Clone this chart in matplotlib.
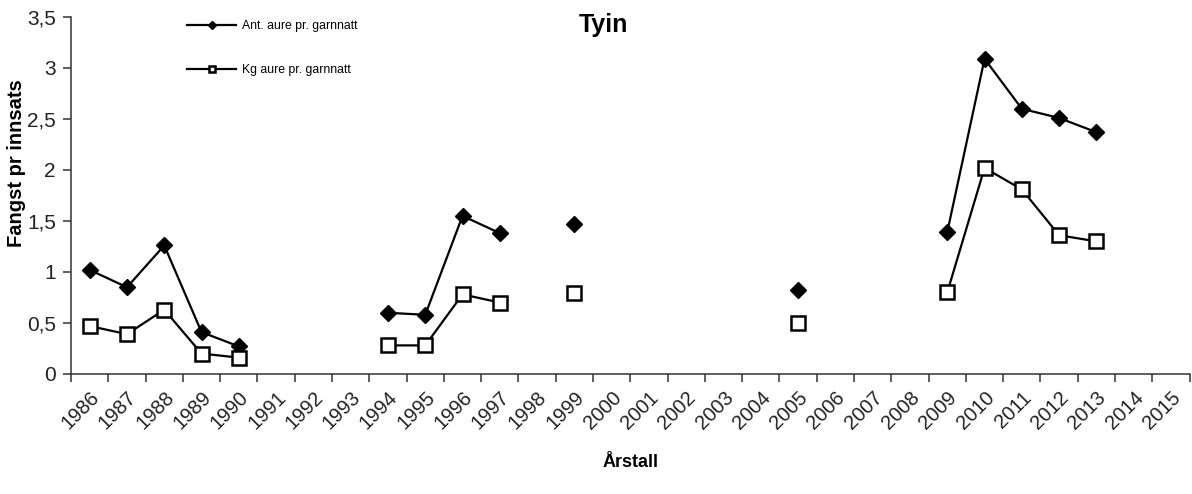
import numpy as np
import matplotlib.pyplot as plt

plt.rcParams['font.family'] = ['Liberation Sans', 'DejaVu Sans']

# Årstall 1986-2015
years = [str(y) for y in range(1986, 2016)]

# Ant. aure pr. garnnatt (None = ikke fisket)
ant = [1.02, 0.85, 1.26, 0.41, 0.27, None, None, None, 0.60, 0.58,
       1.55, 1.38, None, 1.47, None, None, None, None, None, 0.82,
       None, None, None, 1.39, 3.09, 2.60, 2.51, 2.37, None, None]

# Kg aure pr. garnnatt
kg = [0.47, 0.39, 0.63, 0.20, 0.16, None, None, None, 0.28, 0.28,
      0.78, 0.70, None, 0.79, None, None, None, None, None, 0.50,
      None, None, None, 0.80, 2.02, 1.81, 1.36, 1.30, None, None]

yticks = [0, 0.5, 1, 1.5, 2, 2.5, 3, 3.5]

x = np.arange(len(years))
ant_arr = np.array([np.nan if v is None else v for v in ant])
kg_arr = np.array([np.nan if v is None else v for v in kg])

fig = plt.figure(figsize=(11.92, 4.94), dpi=100)
ax = fig.add_axes([0.0596, 0.243, 0.9384, 0.7226])

ax.plot(x, ant_arr, color='black', lw=1.6, marker='D', markersize=8,
        markerfacecolor='black', markeredgecolor='black', label='Ant. aure pr. garnnatt')
ax.plot(x, kg_arr, color='black', lw=1.6, marker='s', markersize=9.5,
        markerfacecolor='white', markeredgecolor='black', markeredgewidth=1.8,
        label='Kg aure pr. garnnatt')

ax.set_xlim(-0.5, len(years) - 0.5)
ax.set_ylim(0, 3.5)
ax.set_yticks(yticks)
ax.set_yticklabels([f'{v:g}'.replace('.', ',') for v in yticks], fontsize=15, color='#222222')

ax.set_xticks(x)
ax.set_xticklabels(years, rotation=45, ha='right', rotation_mode='anchor', fontsize=14.5,
                   color='#222222')
ax.tick_params(axis='x', length=0, pad=10)
ax.set_xticks(np.arange(len(years) + 1) - 0.5, minor=True)
ax.tick_params(axis='x', which='minor', length=6, width=1.1, direction='out', color='#333333')
ax.tick_params(axis='y', length=6, width=1.1, direction='out', color='#333333', pad=5)

for s in ['top', 'right']:
    ax.spines[s].set_visible(False)
for s in ['left', 'bottom']:
    ax.spines[s].set_linewidth(1.1)
    ax.spines[s].set_color('#333333')

fig.text(603 / 1192, 1 - 25 / 494, 'Tyin', fontsize=18, fontweight='bold',
         ha='center', va='center')
fig.text(17 / 1192, 1 - 163 / 494, 'Fangst pr innsats', fontsize=14.5, fontweight='bold',
         rotation=90, ha='center', va='center')
fig.text(0.529, 0.055, 'Årstall', fontsize=13, fontweight='bold', ha='center')

leg = ax.legend(loc='upper left', bbox_to_anchor=(0.094, 1.022), frameon=False, fontsize=8.8,
                markerscale=0.45, labelspacing=2.6, handlelength=4.0, handletextpad=0.5)

fig.savefig('out.png', dpi=100)
